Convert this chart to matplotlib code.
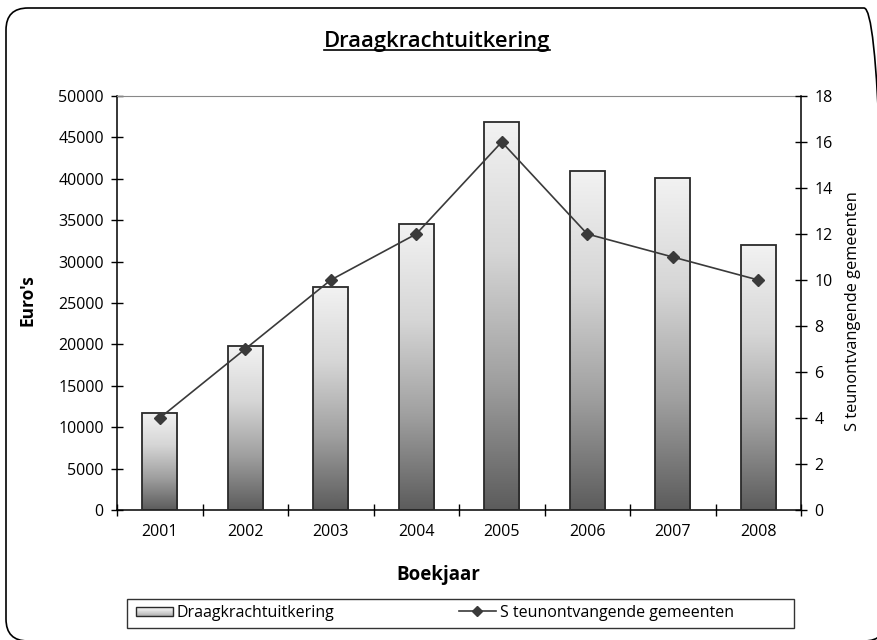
import matplotlib
matplotlib.use("Agg")
import matplotlib.pyplot as plt
import numpy as np
from matplotlib.patches import FancyBboxPatch, Rectangle
from matplotlib.lines import Line2D
from matplotlib.legend_handler import HandlerBase

plt.rcParams['font.family'] = ['Open Sans', 'DejaVu Sans']

years = ["2001", "2002", "2003", "2004", "2005", "2006", "2007", "2008"]
uitkering = [11750, 19800, 26900, 34500, 46800, 41000, 40100, 32000]
gemeenten = [4, 7, 10, 12, 16, 12, 11, 10]

title = "Draagkrachtuitkering"
ylabel_left = "Euro's"
ylabel_right = "S teunontvangende gemeenten"
xlabel = "Boekjaar"
legend_bar = "Draagkrachtuitkering"
legend_line = "S teunontvangende gemeenten"

W, H = 877, 640
fig = plt.figure(figsize=(W / 100, H / 100), dpi=100)

# rounded outer frame (pixel-based, in inches)
frame = FancyBboxPatch((0.06, -0.01), 8.86 - 0.06, 6.32 + 0.01,
                       boxstyle="round,pad=0,rounding_size=0.22",
                       transform=fig.dpi_scale_trans, facecolor='none',
                       edgecolor='black', linewidth=1.2, zorder=-5)
fig.patches.append(frame)

ax = fig.add_axes([117 / W, 1 - 510 / H, (801 - 117) / W, (510 - 96) / H])
ax.patch.set_alpha(0)
x = np.arange(len(years))
bw = 0.41
bars = ax.bar(x, uitkering, width=bw, facecolor='none', edgecolor='#2a2a2a',
              linewidth=1.3, zorder=3)

# vertical gradient in each bar
cmap = matplotlib.colors.LinearSegmentedColormap.from_list(
    'g', ['#5c5c5c', '#a0a0a0', '#d6d6d6', '#f2f2f2'])
grad = np.linspace(0, 1, 256).reshape(-1, 1)
for b in bars:
    x0, y0 = b.get_x(), b.get_y()
    w, h = b.get_width(), b.get_height()
    ax.imshow(grad, extent=[x0, x0 + w, y0, y0 + h], origin='lower',
              cmap=cmap, aspect='auto', zorder=2)

ax.set_xlim(-0.5, len(years) - 0.5)
ax.set_ylim(0, 50000)
ax.set_yticks(np.arange(0, 50001, 5000))
ax.set_xticks(x)
ax.set_xticklabels(years, fontsize=11.5)
ax.set_xticks(np.arange(-0.5, len(years), 1), minor=True)
ax.tick_params(axis='x', which='major', length=0, pad=10)
ax.tick_params(axis='x', which='minor', length=9, direction='inout', width=1)
ax.tick_params(axis='y', length=9, direction='inout', width=1, labelsize=11.5, pad=5)
for s in ['left', 'bottom']:
    ax.spines[s].set_color('black')
    ax.spines[s].set_linewidth(1.1)
ax.spines['top'].set_color('#888888')
ax.spines['right'].set_visible(False)

ax2 = ax.twinx()
ax2.set_ylim(0, 18)
ax2.set_yticks(np.arange(0, 19, 2))
ax2.plot(x, gemeenten, color='#3a3a3a', linewidth=1.2, marker='D',
         markersize=6.5, markerfacecolor='#3a3a3a', zorder=5)
ax2.tick_params(axis='y', length=9, direction='inout', width=1, labelsize=11.5, pad=5)
ax2.spines['right'].set_color('black')
ax2.spines['right'].set_linewidth(1.1)
for s in ['top', 'left', 'bottom']:
    ax2.spines[s].set_visible(False)

# axis titles placed at reference positions
fig.text(27 / W, 1 - 300 / H, ylabel_left, rotation=90, ha='center', va='center',
         fontsize=12.5, fontweight='bold')
fig.text(853 / W, 1 - 311 / H, ylabel_right, rotation=90, ha='center', va='center',
         fontsize=11.8)
fig.text(438 / W, 1 - 575 / H, xlabel, ha='center', va='center',
         fontsize=13.5, fontweight='bold')

# title with underline
t = fig.text(437 / W, 1 - 41 / H, title, ha='center', va='center',
             fontsize=15.8, fontweight='semibold')
fig.canvas.draw()
bb = t.get_window_extent(renderer=fig.canvas.get_renderer())
fig.add_artist(Line2D([bb.x0 / W, bb.x1 / W], [(bb.y0 + 1.5) / H, (bb.y0 + 1.5) / H],
                      transform=fig.transFigure, color='black', linewidth=1.2))


class GradHandler(HandlerBase):
    def create_artists(self, legend, orig_handle, xdescent, ydescent,
                       width, height, fontsize, trans):
        arts = []
        n = 10
        hh = height * 0.75
        yb = -ydescent + (height - hh) / 2
        for i in range(n):
            c = cmap(1 - i / (n - 1) * 0.55)
            r = Rectangle((-xdescent, yb + hh * (n - 1 - i) / n), width, hh / n,
                          facecolor=c, edgecolor='none', transform=trans)
            arts.append(r)
        arts.append(Rectangle((-xdescent, yb), width, hh, facecolor='none',
                              edgecolor='#2a2a2a', linewidth=1, transform=trans))
        return arts


bar_handle = Rectangle((0, 0), 1, 1)
line_handle = Line2D([], [], color='#3a3a3a', marker='D', markersize=5,
                     linewidth=1.2)
leg = fig.legend([bar_handle, line_handle], [legend_bar, legend_line],
                 handler_map={Rectangle: GradHandler()},
                 loc='center left', bbox_to_anchor=(136 / W, 1 - 613 / H),
                 ncol=2, frameon=False, fontsize=11.5, columnspacing=7.8,
                 handlelength=2.3, handletextpad=0.25, borderpad=0,
                 borderaxespad=0)
fig.add_artist(Rectangle((127 / W, 1 - 628 / H), (794 - 127) / W, (628 - 599) / H,
                         transform=fig.transFigure, facecolor='none',
                         edgecolor='#333333', linewidth=1))

fig.savefig("out.png", dpi=100)
